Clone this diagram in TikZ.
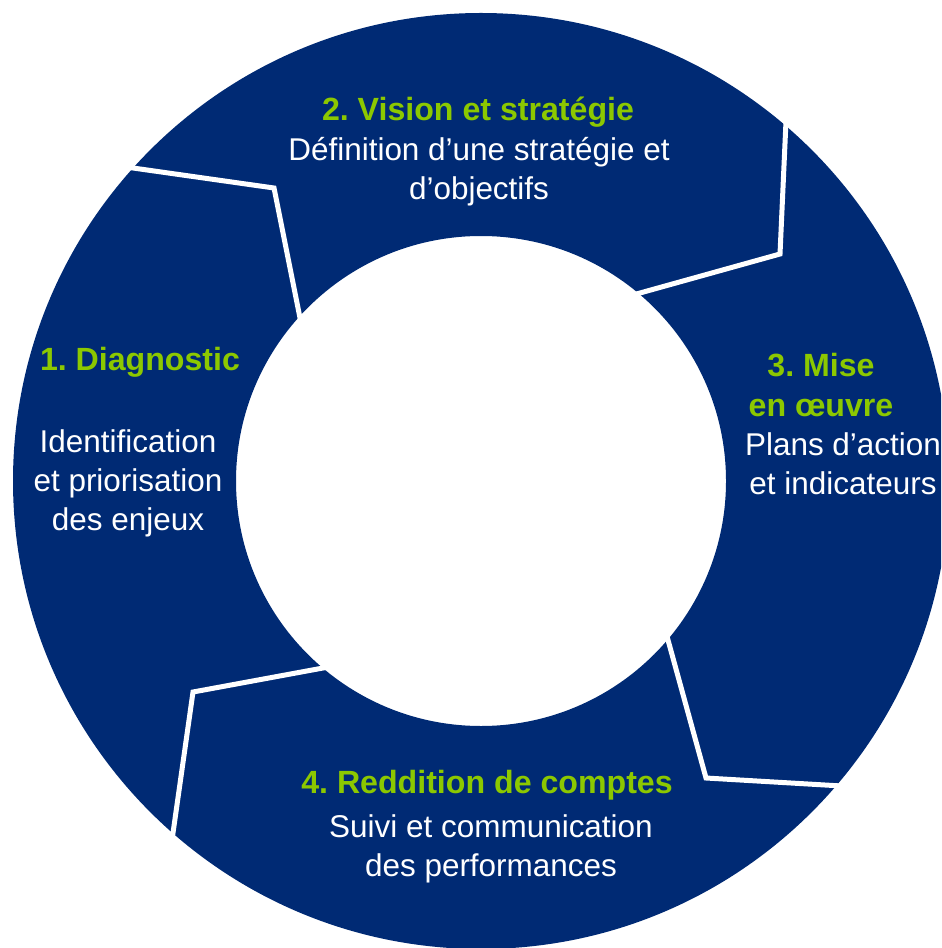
\documentclass[tikz,border=0pt]{standalone}
\usepackage{fontspec}
\setmainfont{Liberation Sans}
\frenchspacing
\definecolor{navy}{RGB}{0,42,116}
\definecolor{leaf}{RGB}{140,200,0}

\begin{document}
\begin{tikzpicture}[x=0.75pt,y=-0.75pt]
		\tikzstyle{steptitle}=[text=leaf,font=\fontsize{24.1}{30}\selectfont\bfseries,align=center,inner sep=0pt]
		\tikzstyle{steptext}=[text=white,font=\fontsize{23.6}{29.3}\selectfont,align=center,inner sep=0pt]
		\tikzstyle{separator}=[draw=white,line width=3.75pt,line join=miter,shorten <=-6pt,shorten >=-6pt]
		\useasboundingbox (0,0) rectangle (941,948);
		\clip (0,0) rectangle (941,948);
		\coordinate (O) at (481,481);
		% ring
		\fill[navy,even odd rule] (O) circle (351pt) (O) circle (183.75pt);
		% separators between the steps
		\draw[separator] (133,168) -- (274,188) -- (300,318);
		\draw[separator] (786,121) -- (780,254) -- (640,293);
		\draw[separator] (668,640) -- (706,778) -- (842,786);
		\draw[separator] (323,668) -- (193,692) -- (173,833);
		% labels
		\node[steptitle] (diagtitle) at (140,362) {1. Diagnostic};
		\node[steptext] (diagtext) at (128,483) {Identification\\et priorisation\\des enjeux};
		\node[steptitle] (visiontitle) at (478,112) {2. Vision et stratégie};
		\node[steptext] (visiontext) at (479,172) {Définition d’une stratégie et\\d’objectifs};
		\node[steptitle] (misetitle) at (821,385) {3. Mise\\en œuvre};
		\node[steptext] (misetext) at (843,464) {Plans d’action\\et indicateurs};
		\node[steptitle] (reddtitle) at (487,785) {4. Reddition de comptes};
		\node[steptext] (reddtext) at (491,849) {Suivi et communication\\des performances};
\end{tikzpicture}
\end{document}
